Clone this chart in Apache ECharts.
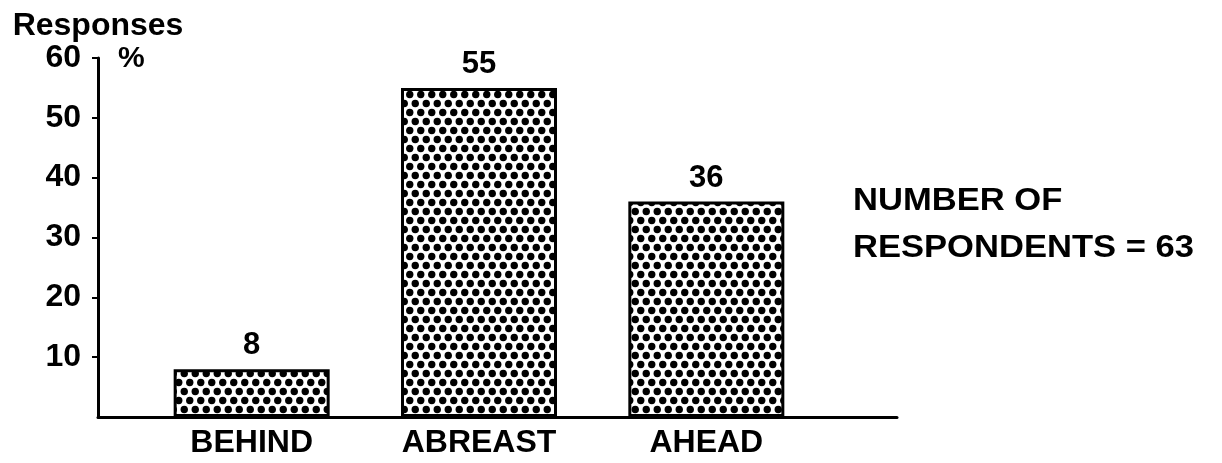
<!DOCTYPE html>
<html>
<head>
<meta charset="utf-8">
<script src="https://cdn.jsdelivr.net/npm/echarts@6/dist/echarts.min.js"></script>
<style>
html,body{margin:0;padding:0;background:#fff;}
#chart{width:1222px;height:463px;}
</style>
</head>
<body>
<div id="chart"></div>
<script>
// ---- data ----
const categories = ['BEHIND', 'ABREAST', 'AHEAD'];
const responsePct = [8, 55, 36];
const yAxisTitle = 'Responses';
const yAxisUnit = '%';
const noteLines = ['NUMBER OF', 'RESPONDENTS = 63'];

// ---- styling ----
const FONT = '"Liberation Sans", Arial, Helvetica, sans-serif';
const INK = '#000';

function dotPattern() {
  const w = 11, h = 18, r = 3.7;
  const c = document.createElement('canvas');
  c.width = w; c.height = h;
  const g = c.getContext('2d');
  g.fillStyle = '#fff';
  g.fillRect(0, 0, w, h);
  g.fillStyle = '#000';
  const pts = [[w / 4, h / 4], [w * 3 / 4, h * 3 / 4]];
  pts.forEach(([x, y]) => {
    for (let dx = -w; dx <= w; dx += w) {
      for (let dy = -h; dy <= h; dy += h) {
        g.beginPath(); g.arc(x + dx, y + dy, r, 0, Math.PI * 2); g.fill();
      }
    }
  });
  return c;
}

const chart = echarts.init(document.getElementById('chart'), null, {renderer: 'canvas'});
const option = {
  backgroundColor: '#fff',
  animation: false,
  grid: [
    {left: 98, top: 58, width: 799, height: 359},
    {left: 138, top: 58, width: 682, height: 359}
  ],
  xAxis: [
    {type: 'value', gridIndex: 0, min: 0, max: 1,
     axisLine: {show: true, lineStyle: {color: INK, width: 3}},
     axisTick: {show: false}, axisLabel: {show: false}, splitLine: {show: false}},
    {type: 'category', gridIndex: 1, data: categories,
     axisLine: {show: false}, axisTick: {show: false}, splitLine: {show: false},
     axisLabel: {color: INK, fontFamily: FONT, fontSize: 32, fontWeight: 'bold', margin: 10}}
  ],
  yAxis: [
    {type: 'value', gridIndex: 0, min: 0, max: 60, interval: 10,
     name: yAxisTitle, nameLocation: 'end', nameGap: 16,
     nameTextStyle: {color: INK, fontFamily: FONT, fontSize: 32, fontWeight: 'bold'},
     axisLine: {show: true, lineStyle: {color: INK, width: 3}},
     axisTick: {show: true, inside: false, length: 6, lineStyle: {color: INK, width: 2}},
     axisLabel: {color: INK, fontFamily: FONT, fontSize: 32, fontWeight: 'bold', margin: 17, showMinLabel: false},
     splitLine: {show: false}},
    {type: 'value', gridIndex: 1, min: 0, max: 60, show: false}
  ],
  graphic: [
    {type: 'text', left: 118, top: 44,
     style: {text: yAxisUnit, font: 'bold 30px ' + FONT, fill: INK}},
    {type: 'text', x: 853, y: 178, scaleX: 1.08,
     style: {text: noteLines.join('\n'), font: 'bold 32px ' + FONT, fill: INK, lineHeight: 47}}
  ],
  series: [{
    type: 'bar', xAxisIndex: 1, yAxisIndex: 1,
    data: responsePct,
    barWidth: 156,
    itemStyle: {color: {image: dotPattern(), repeat: 'repeat'}, borderColor: INK, borderWidth: 3},
    label: {show: true, position: 'top', distance: 8, color: INK,
            fontFamily: FONT, fontSize: 31, fontWeight: 'bold'}
  }]
};
chart.setOption(option);
</script>
</body>
</html>
